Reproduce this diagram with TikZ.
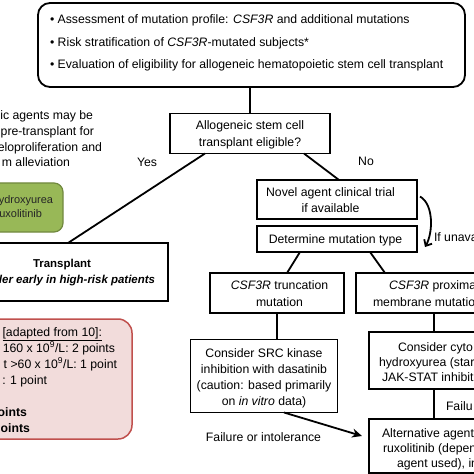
\documentclass[tikz,border=0pt]{standalone}
\usepackage{fontspec}
\setmainfont{Liberation Sans}
\usetikzlibrary{arrows.meta}
\definecolor{greenfill}{HTML}{98B857}
\definecolor{greenline}{HTML}{71893F}
\definecolor{redfill}{HTML}{F2DCDB}
\definecolor{redline}{HTML}{C0504D}
\begin{document}
\begin{tikzpicture}[x=1bp,y=-1bp,
  every node/.style={inner sep=0pt, outer sep=0pt},
  txt/.style={font=\fontsize{12.3}{14}\selectfont},
  btxt/.style={font=\fontsize{11.5}{14}\selectfont\bfseries},
  gtxt/.style={font=\fontsize{11}{13}\selectfont, text=black!85},
  boxst/.style={draw, line width=1.8bp, fill=white},
  conn/.style={line width=1.8bp},
]
\useasboundingbox (0,0) rectangle (474,474);
\clip (0,0) rectangle (474,474);

% assessment box
\node[boxst, rounded corners=12bp, minimum width=427bp, minimum height=84bp] (assess) at (251.5,45) {};
\node[txt, anchor=base west] (as1) at (50,24) {•\ Assessment of mutation profile: \textit{CSF3R} and additional mutations};
\node[txt, anchor=base west] (as2) at (50,47) {•\ Risk stratification of \textit{CSF3R}-mutated subjects*};
\node[txt, anchor=base west] (as3) at (50,69) {•\ Evaluation of eligibility for allogeneic hematopoietic stem cell transplant};

% eligibility
\node[boxst, minimum width=160bp, minimum height=40bp] (allo) at (250,133.5) {};
\node[txt, anchor=base] (allo1) at (250,130) {Allogeneic stem cell};
\node[txt, anchor=base] (allo2) at (250,147) {transplant eligible?};
\draw[conn] (allo.north) -- (allo.north |- assess.south);

% left notes
\node[txt, anchor=base east] (l1) at (93,120) {ic agents may be};
\node[txt, anchor=base east] (l2) at (94,136) {pre-transplant for};
\node[txt, anchor=base east] (l3) at (102,152) {eloproliferation and};
\node[txt, anchor=base east] (l4) at (70,167) {m alleviation};

% green box
\node[draw=greenline, fill=greenfill, line width=1.2bp, rounded corners=9bp, minimum width=123bp, minimum height=49bp] (green) at (1.5,207.5) {};
\node[gtxt, anchor=base east] (g1) at (53,204) {ydroxyurea};
\node[gtxt, anchor=base east] (g2) at (42,218) {uxolitinib};

% transplant
\node[boxst, minimum width=212bp, minimum height=58bp] (transp) at (62,272) {};
\node[btxt, anchor=base] (t1) at (62,267) {Transplant};
\node[btxt, anchor=base east] (t2) at (155,283) {\itshape ider early in high-risk patients};

% novel / determine
\node[boxst, minimum width=160bp, minimum height=39bp] (novel) at (337,199.5) {};
\node[txt, anchor=base] (nov1) at (330.5,197) {Novel agent clinical trial};
\node[txt, anchor=base] (nov2) at (330.5,213) {if available};
\node[boxst, minimum width=160bp, minimum height=26bp] (determ) at (337,239) {};
\node[txt, anchor=base] (det1) at (335.5,243) {Determine mutation type};
\draw[conn, -{Straight Barb[length=5bp,width=9bp]}] ([xshift=3bp,yshift=3bp]novel.east) .. controls +(14,8) and +(8,-14) .. ([xshift=8bp,yshift=-8bp]determ.east);
\node[txt, anchor=base west] (unav) at (434,241) {If unava};

% yes / no
\draw[conn] ([xshift=35bp]allo.south west) -- ([xshift=6bp]transp.north);
\node[txt, anchor=base] (yes) at (147,167) {Yes};
\draw[conn] ([xshift=-26bp]allo.south east) -- ([xshift=2bp]novel.north);
\node[txt, anchor=base] (no) at (366,166) {No};

% mutation types
\node[boxst, minimum width=134bp, minimum height=40bp] (trunc) at (277,293) {};
\node[txt, anchor=base] (tr1) at (279.5,289) {\textit{CSF3R} truncation};
\node[txt, anchor=base] (tr2) at (279.5,306) {mutation};
\node[boxst, minimum width=156bp, minimum height=40bp] (prox) at (434,293) {};
\node[txt, anchor=base west] (pr1) at (389,289) {\textit{CSF3R} proxima};
\node[txt, anchor=base west] (pr2) at (373,306) {membrane mutatio};
\draw[conn] ([xshift=43bp]determ.south west) -- ([xshift=10bp]trunc.north);
\draw[conn] ([xshift=-47bp]determ.south east) -- ([xshift=29bp]prox.north west);

% SRC
\node[boxst, minimum width=147bp, minimum height=73bp] (src) at (264,376) {};
\node[txt, anchor=base] (s1) at (264,357) {Consider SRC kinase};
\node[txt, anchor=base] (s2) at (264,373) {inhibition with dasatinib};
\node[txt, anchor=base] (s3) at (264,389) {(caution: based primarily};
\node[txt, anchor=base] (s4) at (264,405) {on \textit{in vitro} data)};
\draw[conn] (trunc.south) -- (trunc.south |- src.north);
\node[txt, anchor=base] (fail) at (263.5,441) {Failure or intolerance};

% cyto
\node[boxst, minimum width=130bp, minimum height=57bp] (cyto) at (434,360.5) {};
\node[txt, anchor=base west] (c1) at (398,351) {Consider cyto};
\node[txt, anchor=base west] (c2) at (379,366) {hydroxyurea (star};
\node[txt, anchor=base west] (c3) at (382,381) {JAK-STAT inhibit};
\draw[conn] (prox.south) -- (cyto.north);
\node[txt, anchor=base west] (fail2) at (446,410) {Failu};

% alternative
\node[boxst, minimum width=130bp, minimum height=54bp] (alt) at (434,446) {};
\node[txt, anchor=base west] (a1) at (382,437) {Alternative agent};
\node[txt, anchor=base west] (a2) at (383,452) {ruxolitinib (depen};
\node[txt, anchor=base west] (a3) at (397,467) {agent used), in};
\draw[conn] (cyto.south) -- (alt.north);
\draw[conn, -{Stealth[length=10bp,width=9bp]}] ([xshift=20bp]src.south) -- ([xshift=-7bp,yshift=10bp]alt.west);

% red box
\node[draw=redline, fill=redfill, line width=1.5bp, rounded corners=14bp, minimum width=192bp, minimum height=120bp] (red) at (36,379) {};
\node[txt, anchor=base east] (r1) at (102,336) {\underline{[adapted from 10]:}};
\node[txt, anchor=base east] (r2) at (115,352) {160 x 10\textsuperscript{9}/L: 2 points};
\node[txt, anchor=base east] (r3) at (117,368) {t >60 x 10\textsuperscript{9}/L: 1 point};
\node[txt, anchor=base east] (r4) at (47,384) {: 1 point};
\node[txt, anchor=base east] (r5) at (27,416) {\bfseries oints};
\node[txt, anchor=base east] (r6) at (30,432) {\bfseries oints};
\end{tikzpicture}
\end{document}
